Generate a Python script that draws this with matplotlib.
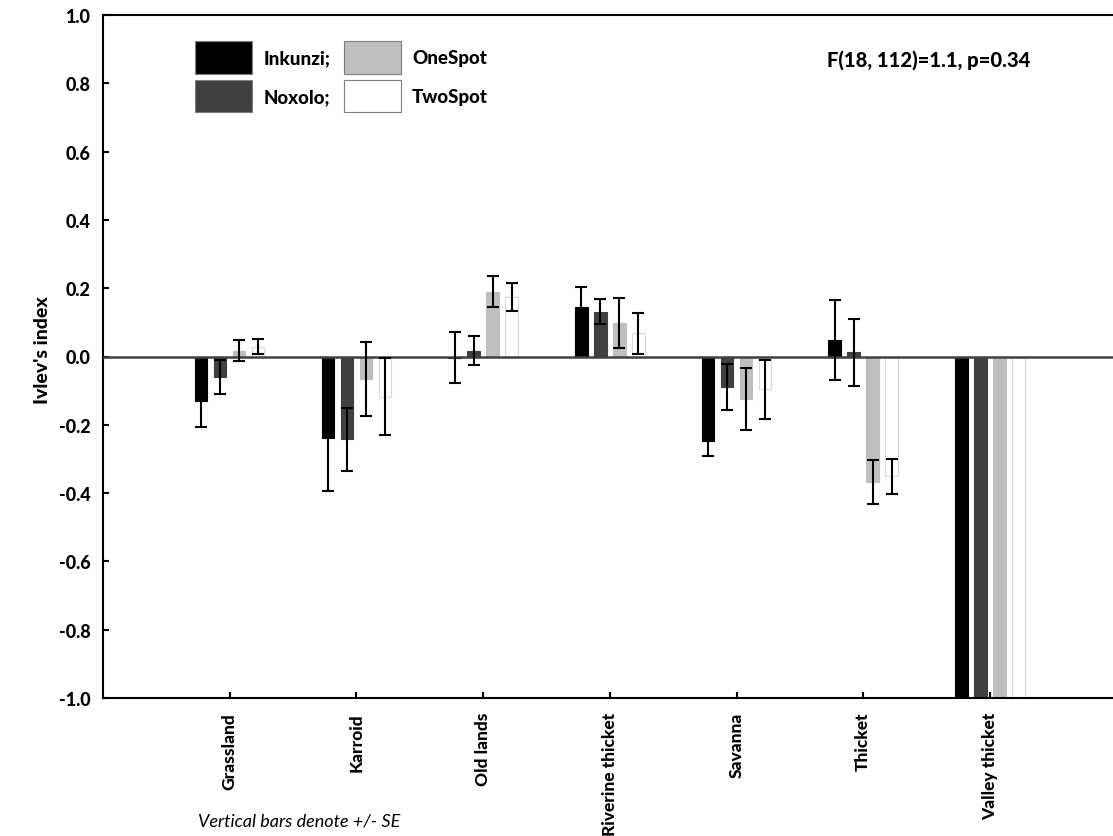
import numpy as np
import matplotlib
matplotlib.use("Agg")
import matplotlib.pyplot as plt
from matplotlib.patches import Patch
from matplotlib import font_manager as fm

categories = ["Grassland", "Karroid", "Old lands", "Riverine thicket",
              "Savanna", "Thicket", "Valley thicket"]
series = ["Inkunzi", "Noxolo", "OneSpot", "TwoSpot"]
legend_labels = ["Inkunzi;", "Noxolo;", "OneSpot", "TwoSpot"]

inkunzi = [-0.129, -0.240, -0.004, 0.146, -0.246, 0.047, -1.0]
noxolo = [-0.060, -0.243, 0.017, 0.131, -0.090, 0.012, -1.0]
onespot = [0.017, -0.066, 0.190, 0.098, -0.125, -0.367, -1.0]
twospot = [0.029, -0.118, 0.174, 0.068, -0.096, -0.351, -1.0]

inkunzi_se = [0.077, 0.155, 0.075, 0.058, 0.044, 0.117, 0.0]
noxolo_se = [0.049, 0.093, 0.042, 0.036, 0.068, 0.098, 0.0]
onespot_se = [0.031, 0.108, 0.046, 0.073, 0.090, 0.065, 0.0]
twospot_se = [0.022, 0.113, 0.042, 0.060, 0.087, 0.051, 0.0]

yticks = [-1.0, -0.8, -0.6, -0.4, -0.2, 0.0, 0.2, 0.4, 0.6, 0.8, 1.0]

values = [inkunzi, noxolo, onespot, twospot]
errors = [inkunzi_se, noxolo_se, onespot_se, twospot_se]

colors = ["#000000", "#404040", "#bfbfbf", "#ffffff"]
edges = ["#000000", "#404040", "#bfbfbf", "#d9d9d9"]

FONT = "Lato"
plt.rcParams["font.family"] = [FONT, "DejaVu Sans"]
weights = sorted({f.weight for f in fm.fontManager.ttflist if f.name == FONT},
                 key=lambda w: str(w))
print("Lato weights:", weights)
WT = 900

W, H = 1113, 837
fig = plt.figure(figsize=(W / 100, H / 100), dpi=100)
ax = fig.add_axes([103 / W, 1 - 699 / H, 1013.6 / W, (699 - 16) / H])

x = np.arange(len(categories))
offsets = [-0.225, -0.075, 0.075, 0.225]
bw = 0.099

for k in range(4):
    ax.bar(x + offsets[k], values[k], width=bw, color=colors[k],
           edgecolor=edges[k], linewidth=0.8, zorder=2)
    v = np.array(values[k])
    e = np.array(errors[k])
    m = e > 0
    ax.errorbar((x + offsets[k])[m], v[m], yerr=e[m], fmt="none",
                ecolor="black", elinewidth=1.5, capsize=4.6, capthick=1.5,
                zorder=4)

ax.axhline(0, color="#404040", lw=1.8, zorder=3)

ax.set_xlim(-1, 7)
ax.set_ylim(-1, 1)
ax.set_yticks(yticks)
ax.set_yticklabels([f"{t:.1f}" for t in yticks], fontweight=WT,
                   fontsize=13)
ax.set_xticks(x)
ax.set_xticklabels(categories, rotation=90, fontweight=WT, fontsize=12.5)
ax.tick_params(axis="both", direction="in", length=4, width=1.5)
ax.tick_params(axis="y", pad=9)
ax.tick_params(axis="x", pad=10)

for s in ["left", "bottom", "top"]:
    ax.spines[s].set_linewidth(1.5)
    ax.spines[s].set_color("black")
ax.spines["right"].set_visible(False)

fig.text(42 / W, 1 - 350 / H, "Ivlev's index", rotation=90, ha="center",
         va="center", fontweight=WT, fontsize=14)

handles = [Patch(facecolor=colors[k], edgecolor="#7f7f7f", linewidth=0.8)
           for k in range(4)]
leg = ax.legend(handles, legend_labels, ncol=2, loc="upper left",
                bbox_to_anchor=(195 / W, 1 - 42 / H),
                bbox_transform=fig.transFigure, frameon=False,
                prop={"family": FONT, "weight": WT, "size": 13.5},
                handlelength=3.05, handleheight=2.3, labelspacing=0.33,
                handletextpad=0.6, columnspacing=0.7, borderpad=0,
                borderaxespad=0)

fig.text(827 / W, 1 - 60 / H, "F(18, 112)=1.1, p=0.34", ha="left",
         va="center", fontweight=WT, fontsize=14.5)

fig.text(299 / W, 1 - 822 / H, "Vertical bars denote +/- SE", ha="center",
         va="center", fontstyle="italic", fontsize=13)

fig.savefig("out.png", dpi=100)
